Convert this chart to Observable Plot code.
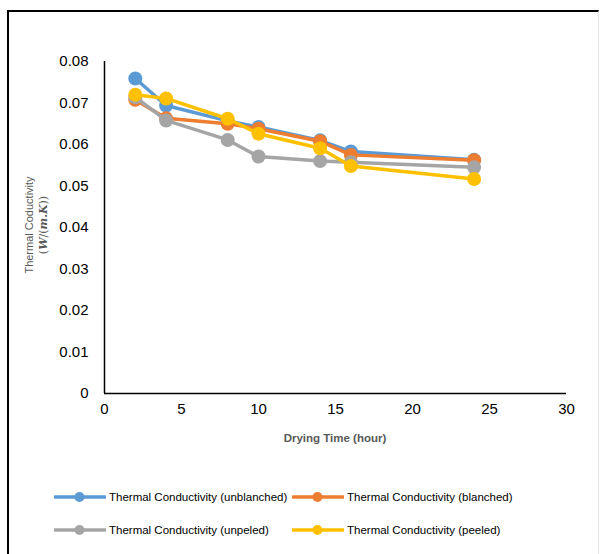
<!DOCTYPE html>
<html>
<head>
<meta charset="utf-8">
<script src="https://cdn.jsdelivr.net/npm/d3@7"></script>
<script src="https://cdn.jsdelivr.net/npm/@observablehq/plot@0.6"></script>
<style>
  html, body { margin: 0; padding: 0; background: #fff; }
  #wrap { position: relative; width: 600px; height: 554px; overflow: hidden; font-family: "Liberation Sans", Arial, sans-serif; }
  #frame { position: absolute; left: 7px; top: 10px; width: 589px; height: 560px; border-left: 2px solid #000; border-top: 2px solid #000; border-right: 1px solid #e6e6e6; }
  #chart { position: absolute; left: 0; top: 0; }
  #legend { position: absolute; left: 0; top: 478px; width: 600px; height: 70px; }
  .item { position: absolute; display: flex; align-items: center; font-size: 11.5px; color: #000; white-space: nowrap; }
  .item svg { margin-right: 3px; }
</style>
</head>
<body>
<div id="wrap">
  <div id="frame"></div>
  <div id="chart"></div>
  <div id="legend"></div>
</div>
<script>
const dryingTime = [2, 4, 8, 10, 14, 16, 24];
const seriesNames = [
  "Thermal Conductivity (unblanched)",
  "Thermal Conductivity (blanched)",
  "Thermal Conductivity (unpeled)",
  "Thermal Conductivity (peeled)"
];
const unblanched = [0.0759, 0.0694, 0.0657, 0.0642, 0.0610, 0.0583, 0.0563];
const blanched   = [0.0708, 0.0663, 0.0650, 0.0638, 0.0608, 0.0575, 0.0562];
const unpeled    = [0.0714, 0.0658, 0.0611, 0.0571, 0.0560, 0.0557, 0.0545];
const peeled     = [0.0720, 0.0711, 0.0662, 0.0626, 0.0591, 0.0548, 0.0517];
const colors = ["#5B9BD5", "#ED7D31", "#A5A5A5", "#FFC000"];
const xTicks = [0, 5, 10, 15, 20, 25, 30];
const yTicks = [0, 0.01, 0.02, 0.03, 0.04, 0.05, 0.06, 0.07, 0.08];

const allSeries = [unblanched, blanched, unpeled, peeled];
const data = [];
allSeries.forEach((vals, si) => {
  vals.forEach((v, i) => data.push({series: seriesNames[si], time: dryingTime[i], k: v}));
});

const marks = [];
seriesNames.forEach((name, si) => {
  const d = data.filter(r => r.series === name);
  marks.push(Plot.line(d, {x: "time", y: "k", stroke: colors[si], strokeWidth: 3.5}));
  marks.push(Plot.dot(d, {x: "time", y: "k", fill: colors[si], r: 7}));
});

const chart = Plot.plot({
  width: 600,
  height: 470,
  marginLeft: 104,
  marginRight: 34,
  marginTop: 61,
  marginBottom: 77,
  style: {fontFamily: "Liberation Sans, Arial, sans-serif", fontSize: "15px", color: "#000", background: "transparent"},
  x: {domain: [0, 30]},
  y: {domain: [0, 0.08]},
  marks: [
    Plot.axisX({ticks: xTicks, tickSize: 0, tickPadding: 10, label: null, fontSize: 15}),
    Plot.axisY({ticks: yTicks, tickSize: 0, tickPadding: 16, label: null, fontSize: 15,
      tickFormat: d => d === 0 ? "0" : d3.format(".2f")(d)}),
    Plot.ruleX([0], {stroke: "#000", strokeWidth: 1.5}),
    Plot.ruleY([0], {stroke: "#000", strokeWidth: 1.5}),
    ...marks
  ]
});
document.getElementById("chart").appendChild(chart);

// axis titles
const svg = d3.select(chart);
svg.append("text")
  .attr("x", 335).attr("y", 442)
  .attr("text-anchor", "middle")
  .attr("font-size", 11.5).attr("font-weight", "bold").attr("fill", "#595959")
  .text("Drying Time (hour)");
const yt = svg.append("g").attr("transform", "translate(33,225) rotate(-90)")
  .attr("fill", "#595959").attr("text-anchor", "middle");
yt.append("text").attr("x", 0).attr("y", 0).attr("font-size", 11).text("Thermal Coductivity");
const t2 = yt.append("text").attr("x", 0).attr("y", 14).attr("font-size", 11)
  .attr("font-family", "DejaVu Serif, serif");
t2.append("tspan").text("(");
t2.append("tspan").attr("font-style", "italic").attr("font-weight", "bold").text("W");
t2.append("tspan").text("/(");
t2.append("tspan").attr("font-style", "italic").attr("font-weight", "bold").text("m.K");
t2.append("tspan").text("))");

// legend
const legendPos = [[54, 19], [292, 19], [54, 52], [292, 52]];
const legend = document.getElementById("legend");
seriesNames.forEach((name, si) => {
  const div = document.createElement("div");
  div.className = "item";
  div.style.left = legendPos[si][0] + "px";
  div.style.top = (legendPos[si][1] - 8) + "px";
  div.innerHTML = `<svg width="52" height="16"><line x1="1" x2="51" y1="8" y2="8" stroke="${colors[si]}" stroke-width="3.5" stroke-linecap="round"/><circle cx="25.5" cy="8" r="5" fill="${colors[si]}"/></svg><span>${name}</span>`;
  legend.appendChild(div);
});
</script>
</body>
</html>
